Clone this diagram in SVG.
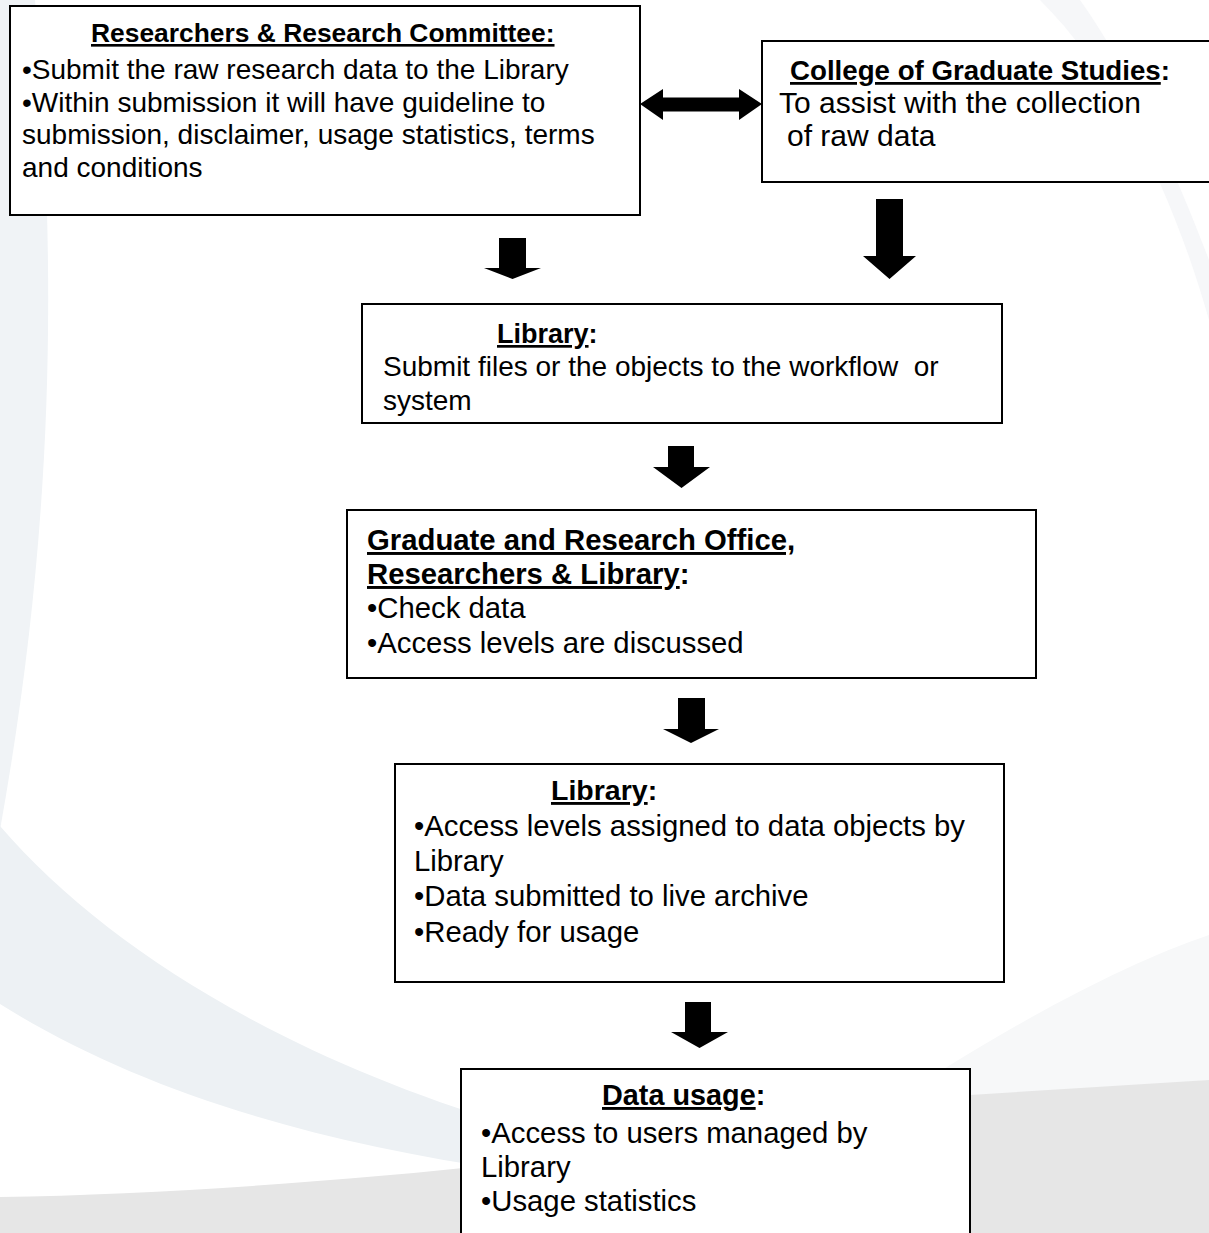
<svg xmlns="http://www.w3.org/2000/svg" width="1209" height="1233" viewBox="0 0 1209 1233">
<style>
.box{fill:#fff;stroke:#000;stroke-width:2}
.t{font-family:"Liberation Sans",Arial,sans-serif;fill:#000}
.b{font-weight:bold}
.u{text-decoration:underline}
.arr{fill:#000}
</style>
<rect width="1209" height="1233" fill="#fff"/>
<g id="background">
<path d="M0,0 L35,0 C60,300 50,550 0,830 Z" fill="#f0f3f6"/>
<path d="M0,826 C150,1000 450,1150 850,1192 C500,1192 200,1130 0,1004 Z" fill="#edf1f4"/>
<path d="M1040,0 L1080,0 C1130,70 1175,170 1209,260 L1209,320 C1175,200 1120,80 1040,0 Z" fill="#f6f7f9"/>
<path d="M880,1110 C1000,1030 1120,965 1209,935 L1209,1080 Z" fill="#f7f8f9"/>
<path d="M0,1197 C300,1192 700,1150 970,1095 L1209,1080 L1209,1233 L0,1233 Z" fill="#e6e6e6"/>
</g>
<g id="connectors">
<polygon class="arr" points="640,104 663,89 663,97.5 739,97.5 739,89 762,104 739,120 739,111.5 663,111.5 663,120"/>
<polygon class="arr" points="499,238 526,238 526,268 541,268 512.5,279 484,268 499,268"/>
<polygon class="arr" points="876,199 903,199 903,256 916,256 889.5,279 863,256 876,256"/>
<polygon class="arr" points="668,446 694,446 694,467 710,467 681.5,488 653,467 668,467"/>
<polygon class="arr" points="678,698 705,698 705,729 719,729 691,743 663,729 678,729"/>
<polygon class="arr" points="685,1002 711,1002 711,1032 728,1032 699.5,1048 671,1032 685,1032"/>
</g>
<g id="node-researchers">
<rect class="box" x="10" y="6" width="630" height="209"/>
<text class="t b" x="91" y="42" font-size="26.4"><tspan class="u">Researchers &amp; Research Committee:</tspan></text>
<text class="t" font-size="28">
<tspan x="22" y="79">•Submit the raw research data to the Library</tspan>
<tspan x="22" y="112">•Within submission it will have guideline to</tspan>
<tspan x="22" y="144">submission, disclaimer, usage statistics, terms</tspan>
<tspan x="22" y="177">and conditions</tspan>
</text>
</g>
<g id="node-college">
<rect class="box" x="762" y="41" width="460" height="141"/>
<text class="t b" x="790" y="80" font-size="27.7"><tspan class="u">College of Graduate Studies</tspan>:</text>
<text class="t" font-size="30">
<tspan x="779" y="113">To assist with the collection</tspan>
<tspan x="787" y="146">of raw data</tspan>
</text>
</g>
<g id="node-library1">
<rect class="box" x="362" y="304" width="640" height="119"/>
<text class="t b" x="497" y="343" font-size="27"><tspan class="u">Library</tspan>:</text>
<text class="t" font-size="28">
<tspan x="383" y="376">Submit files or the objects to the workflow&#160; or</tspan>
<tspan x="383" y="410">system</tspan>
</text>
</g>
<g id="node-graduate-office">
<rect class="box" x="347" y="510" width="689" height="168"/>
<text class="t b" font-size="29.3">
<tspan x="367" y="550" class="u">Graduate and Research Office,</tspan>
<tspan x="367" y="584"><tspan class="u">Researchers &amp; Library</tspan>:</tspan>
</text>
<text class="t" font-size="29.3">
<tspan x="367" y="618">•Check data</tspan>
<tspan x="367" y="653">•Access levels are discussed</tspan>
</text>
</g>
<g id="node-library2">
<rect class="box" x="395" y="764" width="609" height="218"/>
<text class="t b" x="551" y="800" font-size="28.5"><tspan class="u">Library</tspan>:</text>
<text class="t" font-size="29.3">
<tspan x="414" y="836">•Access levels assigned to data objects by</tspan>
<tspan x="414" y="871">Library</tspan>
<tspan x="414" y="906">•Data submitted to live archive</tspan>
<tspan x="414" y="942">•Ready for usage</tspan>
</text>
</g>
<g id="node-data-usage">
<rect class="box" x="461" y="1069" width="509" height="180"/>
<text class="t b" x="602" y="1105" font-size="28.8"><tspan class="u">Data usage</tspan>:</text>
<text class="t" font-size="29.3">
<tspan x="481" y="1143">•Access to users managed by</tspan>
<tspan x="481" y="1177">Library</tspan>
<tspan x="481" y="1211">•Usage statistics</tspan>
</text>
</g>
</svg>
